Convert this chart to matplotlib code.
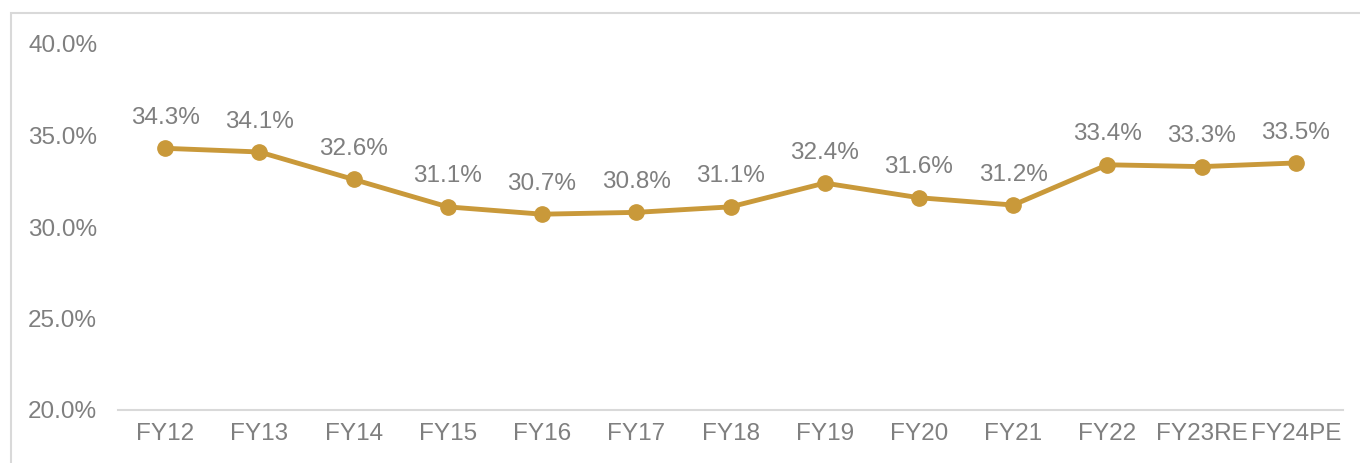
import matplotlib
matplotlib.use("Agg")
import matplotlib.pyplot as plt
from matplotlib.patches import Rectangle
from matplotlib.ticker import FuncFormatter

plt.rcParams.update({"font.family": ["Liberation Sans", "DejaVu Sans"], "font.size": 17.5})

years = ["FY12", "FY13", "FY14", "FY15", "FY16", "FY17", "FY18",
         "FY19", "FY20", "FY21", "FY22", "FY23RE", "FY24PE"]
values = [34.3, 34.1, 32.6, 31.1, 30.7, 30.8, 31.1, 32.4, 31.6, 31.2, 33.4, 33.3, 33.5]

GOLD = "#C9993A"
TXT = "#7F7F7F"
GRID = "#D9D9D9"

fig = plt.figure(figsize=(13.6, 4.63), dpi=100)
ax = fig.add_axes([118 / 1360, 1 - 410 / 463, (1343 - 118) / 1360, (410 - 44) / 463])

# outer chart frame (runs off the right and bottom edges)
top = 1 - 13 / 463
fig.patches.append(Rectangle((11 / 1360, -0.2), 1.2, top + 0.2,
                             transform=fig.transFigure, fill=False, ec=GRID, lw=1.5))

x = range(len(years))
ax.plot(x, values, color=GOLD, lw=3.5, marker="o", ms=11, zorder=3)
for xi, v in zip(x, values):
    ax.annotate(f"{v:.1f}%", (xi, v), xytext=(0, 14), textcoords="offset points",
                ha="center", va="bottom", color=TXT, fontsize=17.5)

ax.set_xlim(-0.5, len(years) - 0.5)
ax.set_ylim(20, 40)
ax.set_yticks([20, 25, 30, 35, 40])
ax.yaxis.set_major_formatter(FuncFormatter(lambda v, _: f"{v:.1f}%"))
ax.set_xticks(list(x))
ax.set_xticklabels(years)
ax.tick_params(axis="both", length=0, colors=TXT, labelsize=17.5)
ax.tick_params(axis="y", pad=15)
ax.tick_params(axis="x", pad=9)
for s in ("top", "right", "left"):
    ax.spines[s].set_visible(False)
ax.spines["bottom"].set_color(GRID)
ax.spines["bottom"].set_linewidth(1.5)

fig.savefig("out.png", dpi=100)
